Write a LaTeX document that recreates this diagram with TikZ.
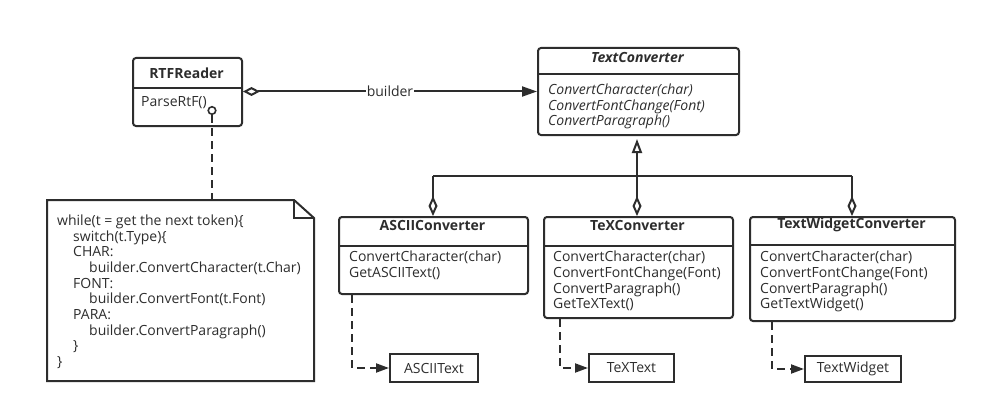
\documentclass[tikz,border=0pt]{standalone}
\usepackage{fontspec}
\setmainfont{Open Sans}
\usetikzlibrary{arrows.meta,calc}
\definecolor{ink}{RGB}{45,45,45}
\tikzset{
  cls/.style={draw=ink, line width=2pt, rounded corners=3pt, anchor=north west, inner sep=0pt, fill=white},
  plain/.style={draw=ink, line width=2pt, anchor=north west, inner sep=0pt, fill=white, text=ink, font=\fontsize{14}{15}\selectfont},
  ctitle/.style={text=ink, font=\fontsize{14}{15}\selectfont\bfseries, inner sep=0pt},
  meth/.style={text=ink, anchor=north west, align=left, inner sep=0pt, font=\fontsize{14}{15.7}\selectfont},
  sep/.style={draw=ink, line width=2pt},
  conn/.style={draw=ink, line width=2pt},
  dep/.style={draw=ink, line width=2pt, dash pattern=on 8pt off 5pt, -{Triangle[length=13pt,width=9pt]}},
}
\begin{document}
\begin{tikzpicture}[x=1pt,y=-1pt]
\useasboundingbox (0,0) rectangle (986,412);
\fill[white] (0,0) rectangle (986,412);

% RTFReader
\node[cls, minimum width=109pt, minimum height=68pt] (rtf) at (132,57) {};
\node[ctitle] (rtft) at (186.5,73) {RTFReader};
\draw[sep] (132,88) -- (241,88);
\node[meth] (rtfm) at (141,96) {ParseRtF()};
\node[draw=ink, line width=1.6pt, circle, minimum size=7.5pt, inner sep=0pt, fill=white] (circ) at (212,110.5) {};

% TextConverter
\node[cls, minimum width=201pt, minimum height=87pt] (tc) at (537,47) {};
\node[ctitle, font=\fontsize{14}{15}\selectfont\bfseries\itshape] (tct) at (637.5,57) {TextConverter};
\draw[sep] (537,74) -- (738,74);
\node[meth, font=\fontsize{14}{15.7}\selectfont\itshape] (tcm) at (548,83.5) {ConvertCharacter(char)\\ConvertFontChange(Font)\\ConvertParagraph()};

% ASCIIConverter
\node[cls, minimum width=189pt, minimum height=77pt] (ac) at (338,216) {};
\node[ctitle] (act) at (432.5,225) {ASCIIConverter};
\draw[sep] (338,246) -- (527,246);
\node[meth] (acm) at (349,251) {ConvertCharacter(char)\\GetASCIIText()};

% TeXConverter
\node[cls, minimum width=189pt, minimum height=101pt] (xc) at (543,216) {};
\node[ctitle] (xct) at (637.5,225) {TeXConverter};
\draw[sep] (543,246) -- (732,246);
\node[meth] (xcm) at (553,251) {ConvertCharacter(char)\\ConvertFontChange(Font)\\ConvertParagraph()\\GetTeXText()};

% TextWidgetConverter
\node[cls, minimum width=205pt, minimum height=104pt] (wc) at (749,216) {};
\node[ctitle] (wct) at (851.5,225) {TextWidgetConverter};
\draw[sep] (749,245) -- (954,245);
\node[meth] (wcm) at (760,251) {ConvertCharacter(char)\\ConvertFontChange(Font)\\ConvertParagraph()\\GetTextWidget()};

% product boxes
\node[plain, minimum width=88pt, minimum height=28pt] (at) at (389,353) {ASCIIText};
\node[plain, minimum width=85pt, minimum height=28pt] (xt) at (588,353) {TeXText};
\node[plain, minimum width=96pt, minimum height=26pt] (wt) at (804,355) {TextWidget};

% note
\coordinate (nNW) at (47,200);
\coordinate (nF1) at (294,200);
\coordinate (nF2) at (314,218);
\coordinate (nSE) at (314,381);
\coordinate (nSW) at (47,381);
\coordinate (nFC) at (294,218);
\draw[draw=ink, line width=2pt, fill=white, line join=miter] (nNW) -- (nF1) -- (nF2) -- (nSE) -- (nSW) -- cycle;
\draw[draw=ink, line width=2pt] (nF1) -- (nFC) -- (nF2);
\node[meth] (notetext) at (57,214.5) {while(t = get the next token)\{\\
\hspace*{16pt}switch(t.Type)\{\\
\hspace*{16pt}CHAR:\\
\hspace*{32pt}builder.ConvertCharacter(t.Char)\\
\hspace*{16pt}FONT:\\
\hspace*{32pt}builder.ConvertFont(t.Font)\\
\hspace*{16pt}PARA:\\
\hspace*{32pt}builder.ConvertParagraph()\\
\hspace*{16pt}\}\\
\}};
\coordinate (noteTop) at (212,200);
\draw[conn, dash pattern=on 8pt off 5pt] (circ.south) -- (noteTop);

% builder association
\draw[conn, {Diamond[open,length=17pt,width=9pt]}-{Triangle[length=15pt,width=10pt]}] (rtf.east |- 0,91.5) -- node[fill=white, inner sep=1pt, text=ink, font=\fontsize{14}{15}\selectfont] (blabel) {builder} (tc.west |- 0,91.5);

% generalization tree
\coordinate (hub) at (637,176);
\coordinate (hl) at (433,176);
\coordinate (hr) at (852,176);
\draw[conn] (hl) -- (hr);
\draw[conn, -{Triangle[open,length=14pt,width=10pt]}, shorten >=3pt] (hub) -- (tc.south -| hub);
\draw[conn, -{Diamond[open,length=20pt,width=9pt]}] (hl) -- (ac.north -| hl);
\draw[conn, -{Diamond[open,length=20pt,width=9pt]}] (hub) -- (xc.north -| hub);
\draw[conn, -{Diamond[open,length=20pt,width=9pt]}] (hr) -- (wc.north -| hr);

% dependencies
\draw[dep] (ac.south -| 352,0) |- (at.west);
\draw[dep] (xc.south -| 560,0) |- (xt.west);
\draw[dep] (wc.south -| 772,0) |- (wt.west);
\end{tikzpicture}
\end{document}
